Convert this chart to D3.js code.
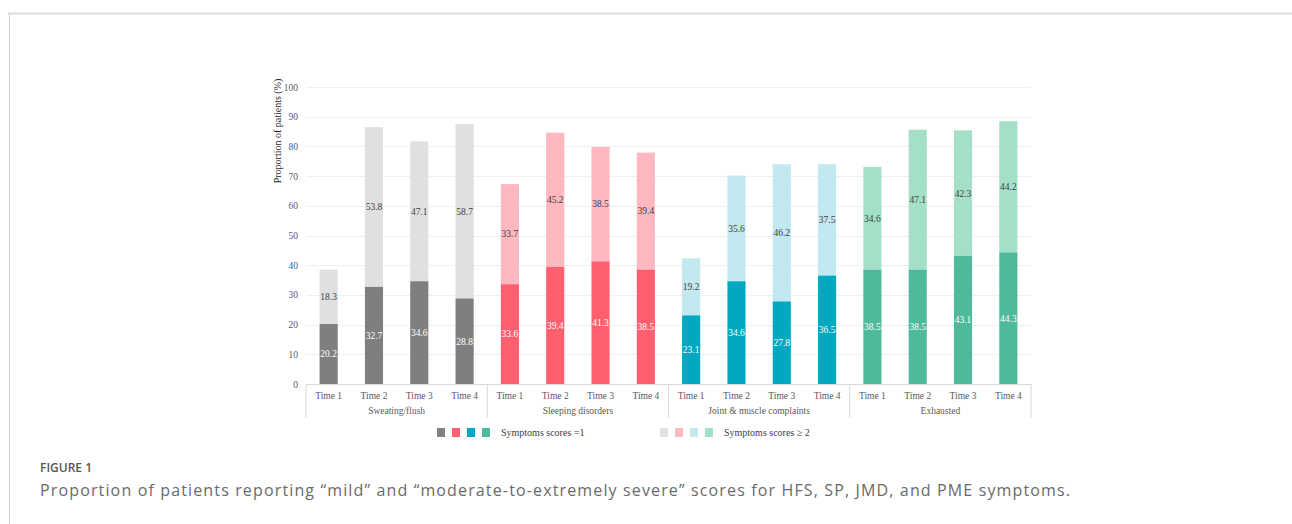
<!DOCTYPE html>
<html>
<head>
<meta charset="utf-8">
<script src="https://cdn.jsdelivr.net/npm/d3@7/dist/d3.min.js"></script>
<style>
  html, body { margin: 0; padding: 0; background: #fff; }
  svg { display: block; }
</style>
</head>
<body>
<svg id="chart" width="1292" height="524"></svg>
<script>
// Symptom groups and time points
const groups = ["Sweating/flush", "Sleeping disorders", "Joint & muscle complaints", "Exhausted"];
const times = ["Time 1", "Time 2", "Time 3", "Time 4"];

// Proportion (%) with symptom score = 1, per group, Time 1..4
const scoreOne = [
  [20.2, 32.7, 34.6, 28.8],
  [33.6, 39.4, 41.3, 38.5],
  [23.1, 34.6, 27.8, 36.5],
  [38.5, 38.5, 43.1, 44.3]
];
// Proportion (%) with symptom score >= 2, per group, Time 1..4
const scoreTwoPlus = [
  [18.3, 53.8, 47.1, 58.7],
  [33.7, 45.2, 38.5, 39.4],
  [19.2, 35.6, 46.2, 37.5],
  [34.6, 47.1, 42.3, 44.2]
];

const yTicks = [0, 10, 20, 30, 40, 50, 60, 70, 80, 90, 100];
const darkColors = ["#7f7f7f", "#ff5f6e", "#00a8c1", "#4fb99b"];
const lightColors = ["#e0e0e0", "#ffb7c0", "#c2e8f0", "#a4e0c7"];
const legendLabels = ["Symptoms scores =1", "Symptoms scores \u2265 2"];

const svg = d3.select("#chart");

// Page frame
svg.append("line").attr("x1", 8).attr("x2", 1292).attr("y1", 13.5).attr("y2", 13.5)
  .attr("stroke", "#dcdcdc").attr("stroke-width", 2);
svg.append("line").attr("x1", 9.5).attr("x2", 9.5).attr("y1", 14).attr("y2", 524)
  .attr("stroke", "#cfcfcf").attr("stroke-width", 1);

// Flattened categories
const rows = [];
groups.forEach((g, gi) => times.forEach((t, ti) => {
  rows.push({ key: gi + "|" + ti, group: gi, time: t, one: scoreOne[gi][ti], two: scoreTwoPlus[gi][ti] });
}));

const x0 = 306, x1 = 1031;
const x = d3.scaleBand().domain(rows.map(d => d.key)).range([x0, x1]).paddingInner(0.6).paddingOuter(0.3);
const y = d3.scaleLinear().domain([0, 100]).range([384, 87]);

const serif = "'Liberation Serif', 'Times New Roman', serif";

// Gridlines
svg.append("g").selectAll("line").data(yTicks.filter(v => v > 0)).join("line")
  .attr("x1", x0).attr("x2", x1)
  .attr("y1", d => Math.round(y(d)) + 0.5).attr("y2", d => Math.round(y(d)) + 0.5)
  .attr("stroke", "#efefef").attr("stroke-width", 1);

// Y axis labels
const yAxis = d3.axisLeft(y).tickValues(yTicks).tickSize(0).tickPadding(0);
const yg = svg.append("g").attr("transform", `translate(${298},0)`).call(yAxis);
yg.select(".domain").remove();
yg.selectAll("text").attr("font-family", serif).attr("font-size", 9.5).attr("fill", "#595959");

// Y axis title
svg.append("text")
  .attr("transform", `translate(281,131) rotate(-90)`)
  .attr("text-anchor", "middle")
  .attr("font-family", serif).attr("font-size", 10).attr("fill", "#262626")
  .text("Proportion of patients (%)");

// Stacked bars
const barG = svg.append("g");
rows.forEach(d => {
  const bx = x(d.key), bw = x.bandwidth();
  barG.append("rect").attr("x", bx).attr("width", bw)
    .attr("y", y(d.one + d.two)).attr("height", y(d.one) - y(d.one + d.two))
    .attr("fill", lightColors[d.group]);
  barG.append("rect").attr("x", bx).attr("width", bw)
    .attr("y", y(d.one)).attr("height", y(0) - y(d.one))
    .attr("fill", darkColors[d.group]);
  barG.append("text").attr("x", bx + bw / 2).attr("y", y(d.one / 2)).attr("dy", "0.35em")
    .attr("text-anchor", "middle").attr("font-family", serif).attr("font-size", 9.5)
    .attr("fill", "#ffffff").text(d.one.toFixed(1));
  barG.append("text").attr("x", bx + bw / 2).attr("y", y(d.one + d.two / 2)).attr("dy", "0.35em")
    .attr("text-anchor", "middle").attr("font-family", serif).attr("font-size", 9.5)
    .attr("fill", "#404040").text(d.two.toFixed(1));
});

// Baseline
svg.append("line").attr("x1", x0).attr("x2", x1).attr("y1", 384.5).attr("y2", 384.5)
  .attr("stroke", "#d9d9d9").attr("stroke-width", 1);

// Category axis: time labels, group labels and separators
const groupW = (x1 - x0) / groups.length;
svg.append("g").selectAll("line").data(d3.range(groups.length + 1)).join("line")
  .attr("x1", i => x0 + i * groupW).attr("x2", i => x0 + i * groupW)
  .attr("y1", 384).attr("y2", 418)
  .attr("stroke", "#d9d9d9").attr("stroke-width", 1);

svg.append("g").selectAll("text").data(rows).join("text")
  .attr("x", d => x(d.key) + x.bandwidth() / 2).attr("y", 396).attr("dy", "0.35em")
  .attr("text-anchor", "middle").attr("font-family", serif).attr("font-size", 9.5)
  .attr("fill", "#595959").text(d => d.time);

svg.append("g").selectAll("text").data(groups).join("text")
  .attr("x", (g, i) => x0 + (i + 0.5) * groupW).attr("y", 411).attr("dy", "0.35em")
  .attr("text-anchor", "middle").attr("font-family", serif).attr("font-size", 9.5)
  .attr("fill", "#595959").text(g => g);

// Legend
const legendSets = [
  { colors: darkColors, label: legendLabels[0], x: 437 },
  { colors: lightColors, label: legendLabels[1], x: 660 }
];
const lg = svg.append("g");
legendSets.forEach(s => {
  s.colors.forEach((c, i) => {
    lg.append("rect").attr("x", s.x + i * 15).attr("y", 428).attr("width", 8).attr("height", 9).attr("fill", c);
  });
  lg.append("text").attr("x", s.x + 4 * 15 + 4).attr("y", 432.5).attr("dy", "0.35em")
    .attr("font-family", serif).attr("font-size", 10).attr("fill", "#404040").text(s.label);
});

// Caption
svg.append("text").attr("x", 40).attr("y", 472)
  .attr("font-family", "'Open Sans', sans-serif").attr("font-size", 12).attr("font-weight", 600)
  .attr("fill", "#555555").text("FIGURE 1");
svg.append("text").attr("x", 40).attr("y", 496)
  .attr("font-family", "'Open Sans', sans-serif").attr("font-size", 16)
  .attr("fill", "#6a6a6a")
  .attr("textLength", 1030).attr("lengthAdjust", "spacing")
  .text("Proportion of patients reporting \u201cmild\u201d and \u201cmoderate-to-extremely severe\u201d scores for HFS, SP, JMD, and PME symptoms.");
</script>
</body>
</html>
